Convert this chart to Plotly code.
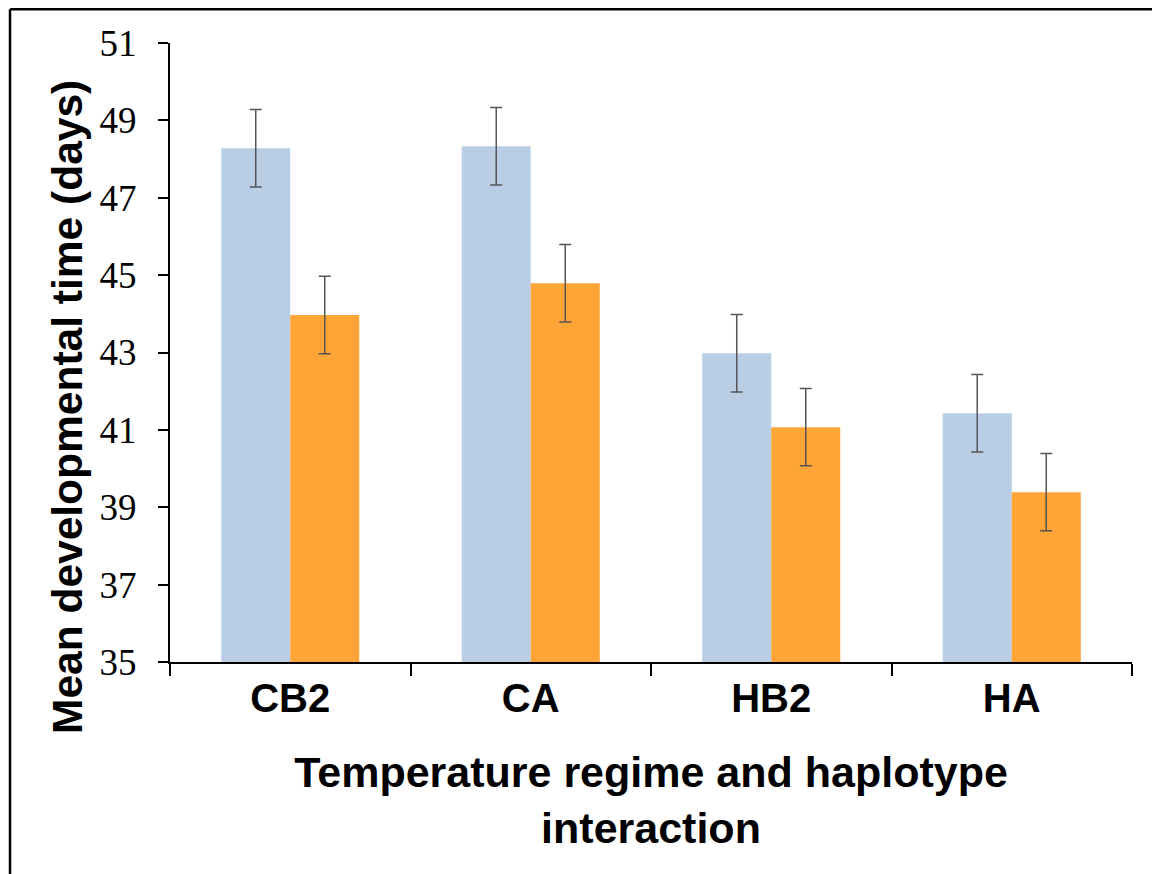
import plotly.graph_objects as go

categories = ["CB2", "CA", "HB2", "HA"]
series_a = [48.28, 48.33, 42.98, 41.43]
series_b = [43.97, 44.79, 41.07, 39.39]
err_a = [1, 1, 1, 1]
err_b = [1, 1, 1, 1]
y_ticks = [35, 37, 39, 41, 43, 45, 47, 49, 51]

fig = go.Figure()
for vals, errs, col in [(series_a, err_a, "#B9CDE5"), (series_b, err_b, "#FFA537")]:
    fig.add_trace(go.Bar(
        x=categories, y=vals, base=0,
        marker=dict(color=col, line=dict(width=0)),
        error_y=dict(type="data", array=errs, visible=True, color="#555555",
                     thickness=1.5, width=6),
        showlegend=False,
    ))

fig.update_layout(
    width=1160, height=874,
    margin=dict(l=162, r=36, t=35, b=220),
    paper_bgcolor="white", plot_bgcolor="white",
    barmode="group", bargap=0.426, bargroupgap=0,
    xaxis=dict(
        showline=True, linecolor="black", linewidth=1.5,
        ticks="outside", tickson="boundaries", ticklen=12, tickcolor="black", tickwidth=1.5,
        tickfont=dict(family="Liberation Sans, Arial", size=40, color="black", weight="bold"),
        title=dict(text="<b>Temperature regime and haplotype<br>interaction</b>",
                   font=dict(family="Liberation Sans, Arial", size=43, color="black"),
                   standoff=38),
    ),
    yaxis=dict(
        range=[35, 51], tickvals=y_ticks, ticktext=[str(t) for t in y_ticks],
        showline=True, linecolor="black", linewidth=2,
        ticks="outside", ticklen=10, tickcolor="black", tickwidth=1.5,
        ticklabelstandoff=14,
        showgrid=False, zeroline=False,
        tickfont=dict(family="Liberation Serif, Times New Roman", size=37, color="black"),
    ),
    annotations=[
        dict(text="<b>Mean developmental time (days)</b>", xref="paper", yref="paper",
             x=-0.106, y=0.412, xanchor="center", yanchor="middle", textangle=-90,
             showarrow=False,
             font=dict(family="Liberation Sans, Arial", size=42.5, color="black")),
    ],
    shapes=[
        dict(type="line", xref="paper", yref="paper", x0=-0.1663, x1=1.04, y0=1.0546, y1=1.0546,
             line=dict(color="black", width=2.5)),
        dict(type="line", xref="paper", yref="paper", x0=-0.1663, x1=-0.1663, y0=1.0546, y1=-0.37,
             line=dict(color="black", width=2.5)),
    ],
)

fig.write_html("out.html")
